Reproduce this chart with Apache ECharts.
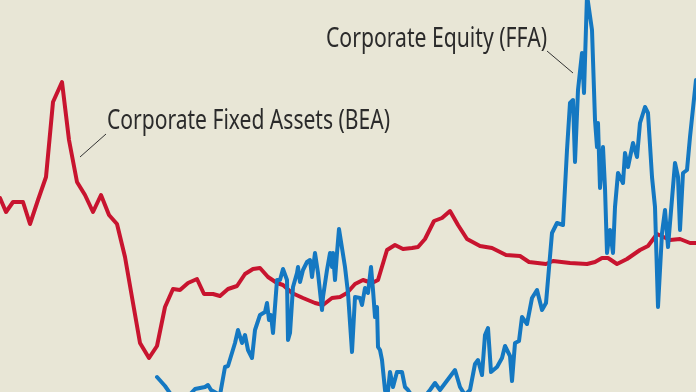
<!DOCTYPE html>
<html>
<head>
<meta charset="utf-8">
<script src="https://cdn.jsdelivr.net/npm/echarts@6/dist/echarts.min.js"></script>
<style>
html,body{margin:0;padding:0;background:#E8E6D6;}
#chart{width:696px;height:392px;}
</style>
</head>
<body>
<div id="chart"></div>
<script>
// Corporate Fixed Assets (BEA): [year, ratio]
const fixedAssets = [
[1945.0,1.94],[1945.6,1.80],[1946.3,1.90],[1947.3,1.90],[1948.0,1.68],[1948.8,1.92],[1949.6,2.15],
[1950.3,2.90],[1951.2,3.10],[1951.9,2.52],[1952.7,2.10],[1953.5,1.97],[1954.3,1.80],[1955.1,1.97],
[1955.9,1.77],[1956.7,1.68],[1957.5,1.35],[1958.3,0.89],[1959.0,0.49],[1959.9,0.34],[1960.7,0.46],
[1961.5,0.85],[1962.3,1.03],[1963.0,1.02],[1963.8,1.09],[1964.7,1.13],[1965.4,0.98],[1966.3,0.98],
[1967.0,0.96],[1967.8,1.03],[1968.7,1.06],[1969.5,1.18],[1970.3,1.23],[1971.0,1.24],[1971.8,1.15],
[1972.7,1.09],[1973.3,1.07],[1974.2,0.99],[1975.3,0.94],[1976.5,0.89],[1977.3,0.87],[1978.2,0.94],
[1979.0,0.95],[1979.7,0.99],[1980.5,1.08],[1981.3,1.12],[1982.2,1.09],[1982.8,1.12],[1983.7,1.42],
[1984.5,1.47],[1985.3,1.43],[1986.2,1.44],[1986.8,1.45],[1987.5,1.53],[1988.4,1.71],[1989.2,1.74],
[1990.0,1.81],[1990.8,1.67],[1991.7,1.53],[1993.0,1.46],[1994.2,1.44],[1995.6,1.37],[1997.0,1.36],
[1997.9,1.30],[1999.6,1.28],[2000.3,1.31],[2002.0,1.29],[2003.7,1.28],[2004.5,1.30],[2005.2,1.34],
[2005.8,1.34],[2006.7,1.28],[2007.7,1.33],[2009.0,1.42],[2009.8,1.46],[2010.7,1.58],[2012.0,1.52],
[2013.0,1.53],[2014.0,1.49],[2014.6,1.49]
];
// Corporate Equity (FFA): [year, ratio]
const equity = [
[1960.7,0.15],[1961.5,0.06],[1962.2,-0.04],[1963.5,-0.08],[1964.5,0.03],[1965.5,0.05],[1965.8,0.07],
[1966.1,0.02],[1967.0,-0.03],[1967.5,0.25],[1967.8,0.26],[1968.5,0.49],[1968.8,0.62],[1969.2,0.49],
[1969.5,0.57],[1969.8,0.42],[1970.2,0.34],[1970.5,0.62],[1971.0,0.77],[1971.5,0.80],[1971.7,0.89],
[1971.9,0.72],[1972.1,0.77],[1972.3,0.59],[1972.7,1.12],[1973.0,1.12],[1973.3,1.23],[1973.7,1.12],
[1973.8,0.52],[1974.0,0.59],[1974.3,1.05],[1974.7,1.19],[1974.8,1.25],[1975.0,1.10],[1975.3,1.22],
[1975.7,1.30],[1976.0,1.32],[1976.2,1.15],[1976.5,1.39],[1976.8,1.19],[1977.2,0.82],[1977.3,0.95],
[1977.7,1.22],[1978.0,1.39],[1978.2,1.25],[1978.3,1.39],[1978.5,1.12],[1978.7,1.39],[1978.9,1.63],
[1979.2,1.44],[1979.5,1.25],[1979.8,0.99],[1980.2,0.40],[1980.5,0.95],[1981.0,0.94],[1981.2,0.87],
[1981.5,1.04],[1981.8,0.99],[1982.1,1.25],[1982.3,1.02],[1982.5,0.75],[1982.7,0.85],[1982.8,0.45],
[1983.0,0.42],[1983.2,0.32],[1983.5,0.02],[1983.7,-0.08],[1984.0,0.20],[1984.3,0.05],[1984.7,0.20],
[1985.2,0.20],[1985.5,0.05],[1985.8,0.02],[1986.8,-0.13],[1988.0,0.02],[1988.5,0.09],[1989.0,0.02],
[1990.5,0.22],[1991.0,0.05],[1991.5,-0.03],[1992.0,0.02],[1992.5,0.28],[1992.8,0.32],[1993.2,0.17],
[1993.5,0.57],[1993.8,0.64],[1994.1,0.20],[1994.7,0.25],[1995.2,0.34],[1995.5,0.46],[1996.0,0.36],
[1996.2,0.11],[1996.5,0.49],[1996.9,0.51],[1997.2,0.75],[1997.7,0.68],[1998.2,0.94],[1998.7,1.02],
[1999.2,0.82],[1999.6,0.89],[2000.2,1.59],[2000.7,1.69],[2001.3,1.67],[2001.7,2.42],[2002.0,2.89],
[2002.3,2.92],[2002.5,2.30],[2002.8,3.02],[2003.2,3.39],[2003.4,2.99],[2003.7,3.97],[2004.2,3.62],
[2004.5,2.72],[2004.7,2.45],[2004.8,2.69],[2005.0,2.04],[2005.3,2.45],[2005.5,2.04],[2005.7,1.39],
[2006.0,1.62],[2006.3,1.39],[2006.5,1.85],[2006.8,2.19],[2007.3,2.09],[2007.5,2.39],[2007.8,2.25],
[2008.3,2.49],[2008.7,2.35],[2009.0,2.69],[2009.5,2.85],[2009.8,2.79],[2010.2,2.15],[2010.5,1.85],
[2010.8,0.85],[2011.2,1.59],[2011.5,1.82],[2011.8,1.45],[2012.5,2.29],[2012.8,2.15],[2013.0,1.62],
[2013.3,2.19],[2013.7,2.22],[2014.0,2.55],[2014.6,3.12]
];
const labels = ['Corporate Fixed Assets (BEA)', 'Corporate Equity (FFA)'];

const FONT = '27px "Noto Sans"';
function fitScale(text, target){
  const c = document.createElement('canvas').getContext('2d');
  c.font = FONT;
  return target / c.measureText(text).width;
}
const TEXTCOL = '#2b2b2b';

const chart = echarts.init(document.getElementById('chart'), null, {renderer:'canvas'});
chart.setOption({
  animation:false,
  backgroundColor:'#E8E6D6',
  grid:{left:0,right:0,top:0,bottom:0},
  xAxis:{type:'value',min:1945,max:2014.6,show:false},
  yAxis:{type:'value',min:0,max:3.92,show:false},
  series:[
    {type:'line',name:labels[0],data:fixedAssets,symbol:'none',clip:true,
     lineStyle:{color:'#C8142F',width:4,join:'round',cap:'round'}},
    {type:'line',name:labels[1],data:equity,symbol:'none',clip:true,
     lineStyle:{color:'#1478C2',width:4,join:'round',cap:'round'}}
  ],
  graphic:[
    {type:'text',x:107,y:121,scaleX:fitScale(labels[0],283),
     style:{text:labels[0],font:FONT,fill:TEXTCOL,verticalAlign:'middle'}},
    {type:'text',x:326,y:39,scaleX:fitScale(labels[1],221),
     style:{text:labels[1],font:FONT,fill:TEXTCOL,verticalAlign:'middle'}},
    {type:'line',shape:{x1:80,y1:157,x2:106,y2:134},style:{stroke:'#333',lineWidth:1}},
    {type:'line',shape:{x1:547,y1:51,x2:573,y2:73},style:{stroke:'#333',lineWidth:1}}
  ]
});
</script>
</body>
</html>
